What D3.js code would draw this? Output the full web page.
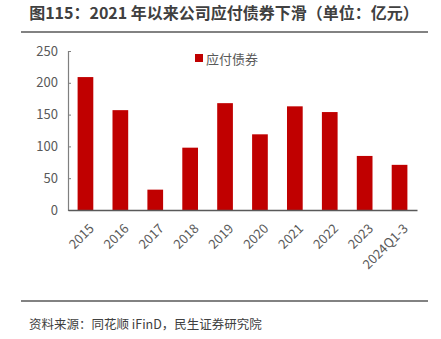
<!DOCTYPE html>
<html><head><meta charset="utf-8">
<script src="https://cdn.jsdelivr.net/npm/d3@7"></script>
<style>body{margin:0;background:#fff;}svg{display:block;}</style>
</head><body>
<script>
const categories = ["2015","2016","2017","2018","2019","2020","2021","2022","2023","2024Q1-3"];
const values = [209,157,32,98,168,119,163,154,85,71];
const yTicks = [0,50,100,150,200,250];
const seriesName = "应付债券";
const title = "图115：2021 年以来公司应付债券下滑（单位：亿元）";
const source = "资料来源：同花顺 iFinD，民生证券研究院";

const W=441,H=339;
const font = "'Noto Sans CJK SC','Noto Sans',sans-serif";
const svg = d3.select("body").append("svg").attr("width",W).attr("height",H);

svg.append("text").attr("x",224).attr("y",19).attr("text-anchor","middle")
  .attr("font-family",font).attr("font-weight","bold").attr("font-size",16).attr("fill","#404040").text(title);
svg.append("line").attr("x1",21).attr("x2",428).attr("y1",32).attr("y2",32).attr("stroke","#595959").attr("stroke-width",1.5);
svg.append("line").attr("x1",21).attr("x2",428).attr("y1",301).attr("y2",301).attr("stroke","#595959").attr("stroke-width",1.5);
svg.append("text").attr("x",29).attr("y",329).attr("font-family",font).attr("font-size",12.5).attr("fill","#404040").text(source);

const x = d3.scaleBand().domain(categories).range([68,417]).paddingInner(0.55).paddingOuter(0.275);
const y = d3.scaleLinear().domain([0,250]).range([210,51]);

svg.selectAll("rect.bar").data(values).enter().append("rect").attr("class","bar")
  .attr("x",(d,i)=>x(categories[i])).attr("width",x.bandwidth())
  .attr("y",d=>y(d)).attr("height",d=>y(0)-y(d)).attr("fill","#C00000");

const yAxis = svg.append("g").attr("transform","translate(68,0)")
  .call(d3.axisLeft(y).tickValues(yTicks).tickSize(-3).tickPadding(10));
yAxis.select(".domain").attr("stroke","#7f7f7f").attr("stroke-width",1.2);
yAxis.selectAll(".tick line").attr("stroke","#7f7f7f");
yAxis.selectAll("text").attr("font-family",font).attr("font-size",13).attr("fill","#595959");

const xAxis = svg.append("g").attr("transform","translate(0,210)")
  .call(d3.axisBottom(x).tickSize(0).tickSizeOuter(0));
xAxis.select(".domain").attr("stroke","#595959").attr("stroke-width",1.5);
xAxis.selectAll("text").attr("font-family",font).attr("font-size",13).attr("fill","#595959")
  .attr("text-anchor","end").attr("dy","0.35em")
  .attr("transform","translate(4,14) rotate(-45)");

const lg = svg.append("g");
lg.append("rect").attr("x",195).attr("y",54).attr("width",8).attr("height",8).attr("fill","#C00000");
lg.append("text").attr("x",206).attr("y",63.5).attr("font-family",font).attr("font-size",13).attr("fill","#595959").text(seriesName);
</script>
</body></html>
